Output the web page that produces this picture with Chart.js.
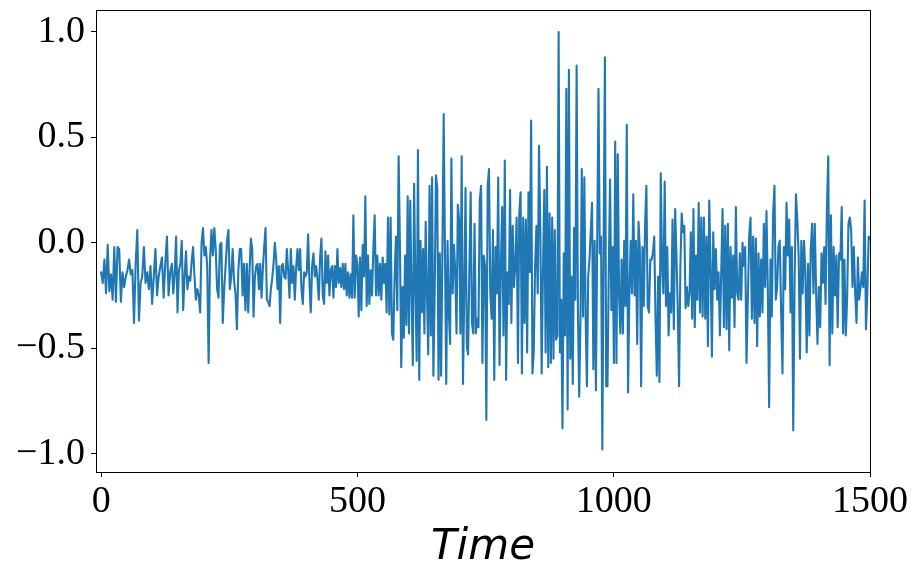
<!DOCTYPE html>
<html>
<head>
<meta charset="utf-8">
<script src="https://cdn.jsdelivr.net/npm/chart.js@4.4.1/dist/chart.umd.min.js"></script>
<style>
  html, body { margin: 0; padding: 0; background: #fff; }
  canvas { display: block; }
</style>
</head>
<body>
<canvas id="signalChart" width="922" height="577"></canvas>
<script>
// tick labels
const xTicks = [0, 500, 1000, 1500];
const yTicks = [-1.0, -0.5, 0.0, 0.5, 1.0];

// time spans of each block of readings
const segBounds = [0, 138, 287, 435, 583, 731, 880, 1028, 1176, 1324, 1500];

// signal readings, block by block
const seg0 = [-0.14,-0.19,-0.08,-0.24,-0.01,-0.23,-0.15,-0.27,-0.02,-0.28,-0.02,-0.03,-0.28,-0.14,-0.21,-0.16,-0.13,-0.08,-0.15,-0.13,-0.38,-0.10,0.06,-0.37,-0.19,-0.16,-0.02,-0.19,-0.14,-0.22,-0.11,-0.29,-0.16,-0.03,-0.25,-0.16,-0.11,-0.07,-0.26,-0.10,0.03,-0.25,-0.14];
const seg1 = [-0.10,-0.24,-0.15,0.03,-0.33,-0.13,-0.10,0.01,-0.32,-0.16,-0.04,-0.22,-0.16,-0.18,-0.09,-0.02,-0.16,-0.27,-0.22,-0.25,-0.33,0.00,0.07,-0.06,-0.02,-0.11,-0.57,-0.08,0.06,-0.06,0.07,-0.03,-0.22,-0.26,-0.01,0.00,-0.38,-0.22,-0.11,0.01,0.06,-0.22,-0.16,-0.03,-0.18,-0.24,-0.41,-0.13,-0.03,-0.03,-0.25,-0.10,-0.32,-0.10];
const seg2 = [-0.33,-0.13,0.02,-0.03,-0.35,-0.16,-0.11,-0.10,-0.22,-0.10,-0.26,-0.12,-0.02,0.07,-0.27,-0.28,-0.30,-0.22,-0.17,-0.10,0.00,-0.08,-0.22,-0.11,-0.38,-0.11,-0.10,-0.16,-0.17,-0.03,-0.13,-0.26,-0.03,-0.19,-0.11,-0.27,-0.12,-0.03,-0.13,-0.03,-0.22,-0.29,-0.14,-0.16,-0.14,0.04,-0.19,-0.33,-0.11,-0.05,-0.16,-0.11,-0.17,-0.27,-0.07,0.02,-0.25];
const seg3 = [-0.29,-0.04,-0.19,-0.06,-0.25,-0.13,-0.11,-0.26,-0.11,-0.21,-0.03,-0.19,-0.12,-0.21,-0.10,-0.22,-0.10,-0.25,-0.14,-0.26,-0.15,-0.26,0.13,-0.26,-0.06,-0.10,-0.35,-0.07,-0.32,-0.01,-0.16,0.22,-0.30,-0.06,-0.29,-0.13,-0.25,-0.03,0.13,-0.25,-0.06,-0.25,-0.10,-0.27,-0.07,-0.19,-0.10,-0.33,0.12,-0.34,0.12,-0.43,-0.46,-0.16,0.03,-0.32,0.41];
const seg4 = [-0.02,-0.59,-0.21,-0.45,-0.06,-0.39,0.22,-0.43,0.20,-0.24,-0.58,0.28,-0.21,-0.56,0.44,-0.65,0.01,-0.33,-0.03,-0.43,0.10,-0.24,-0.53,0.27,-0.44,0.31,-0.63,-0.24,0.32,0.26,-0.65,-0.05,-0.63,-0.05,0.61,-0.05,-0.67,0.01,-0.33,-0.48,0.40,-0.24,-0.01,-0.14,-0.43,0.18,0.11,-0.43,0.41,-0.67,-0.24,0.26,-0.49,-0.53,-0.11,0.24,-0.38,-0.43,0.09];
const seg5 = [-0.43,-0.36,-0.40,0.20,0.27,-0.57,-0.06,-0.11,-0.84,0.27,0.35,-0.24,-0.36,0.06,-0.65,-0.02,-0.24,0.31,-0.58,-0.11,0.17,-0.44,0.39,-0.65,-0.14,-0.29,0.25,-0.38,0.08,-0.21,-0.10,0.12,-0.57,0.14,0.24,-0.62,0.12,-0.38,0.11,-0.52,0.24,-0.14,0.58,-0.62,-0.52,-0.11,0.08,-0.24,0.46,0.05,-0.62,-0.13,0.25,-0.52,0.36,-0.59,0.14,-0.57];
const seg6 = [0.12,-0.55,0.06,-0.46,-0.44,1.00,-0.52,-0.27,-0.88,-0.05,-0.44,0.73,-0.79,0.82,-0.55,-0.16,-0.67,0.07,-0.27,0.84,-0.32,-0.73,-0.36,0.35,-0.35,0.31,-0.35,-0.68,-0.16,-0.08,0.06,0.19,-0.60,0.01,-0.70,0.01,0.73,-0.05,0.03,-0.98,0.00,0.88,-0.68,-0.68,-0.13,0.30,-0.32,-0.02,-0.57,0.48,-0.57,0.42,-0.25,-0.43,-0.08,-0.43,0.01,-0.30,0.56];
const seg7 = [-0.71,-0.24,0.01,-0.24,0.23,-0.25,0.01,-0.48,0.10,-0.03,-0.68,-0.02,-0.30,0.08,0.27,-0.30,-0.33,-0.08,-0.08,-0.05,0.03,-0.36,-0.63,-0.16,-0.66,0.33,-0.11,-0.24,0.29,-0.30,-0.02,-0.44,-0.24,-0.33,0.11,-0.41,0.16,-0.06,-0.32,-0.68,-0.11,0.14,0.05,0.08,-0.31,-0.21,-0.30,-0.24,0.05,-0.36,0.16,-0.40,-0.06,-0.27,0.19,-0.33,0.12,-0.35];
const seg8 = [0.12,-0.36,0.03,-0.49,0.20,-0.11,-0.54,0.05,-0.22,-0.03,-0.27,-0.14,-0.44,-0.14,0.16,-0.40,0.08,-0.41,0.09,-0.51,-0.02,-0.26,-0.06,-0.40,0.17,-0.24,-0.27,-0.05,-0.27,0.00,-0.11,-0.02,-0.57,-0.27,0.03,0.12,-0.36,0.03,-0.38,0.02,-0.49,-0.05,-0.35,-0.08,-0.33,0.09,-0.21,0.15,-0.22,-0.78,-0.08,-0.35,0.14,0.27,-0.27,-0.21,-0.02];
const seg9 = [0.01,-0.33,-0.62,-0.02,-0.22,0.19,-0.06,0.11,-0.33,-0.02,-0.89,-0.18,0.23,0.11,-0.06,-0.55,0.01,-0.24,0.01,-0.14,-0.52,-0.10,-0.44,-0.03,0.09,-0.24,0.09,-0.24,-0.48,-0.21,-0.40,-0.05,-0.19,-0.02,-0.29,0.16,0.41,-0.58,0.13,-0.43,-0.02,-0.25,-0.06,-0.40,-0.05,-0.08,0.17,-0.43,-0.08,-0.44,-0.27,0.09,0.12,0.06,-0.21,-0.02,-0.24,-0.38,-0.07,-0.27,-0.21,-0.14,-0.21,0.20,-0.41,-0.24,0.03];
const lastValue = 0.02;

// spread each block's readings over its time span
const segments = [seg0, seg1, seg2, seg3, seg4, seg5, seg6, seg7, seg8, seg9];
const points = [];
segments.forEach((vals, s) => {
    const t0 = segBounds[s];
    const t1 = segBounds[s + 1];
    vals.forEach((v, i) => {
        points.push({ x: t0 + i * (t1 - t0) / vals.length, y: v });
    });
});
points.push({ x: 1500, y: lastValue });

const tickFont = { family: 'Liberation Serif', size: 38 };

// white background + black box round the plot
const framePlugin = {
    id: 'frame',
    beforeDraw(chart) {
        const c = chart.ctx;
        c.save();
        c.fillStyle = '#fff';
        c.fillRect(0, 0, chart.width, chart.height);
        c.restore();
    },
    afterDraw(chart) {
        const a = chart.chartArea;
        const c = chart.ctx;
        c.save();
        c.strokeStyle = '#000';
        c.lineWidth = 1;
        c.strokeRect(Math.round(a.left) + 0.5, Math.round(a.top) + 0.5,
            Math.round(a.right - a.left), Math.round(a.bottom - a.top));
        c.restore();
    }
};

const ctx = document.getElementById('signalChart').getContext('2d');
new Chart(ctx, {
    type: 'line',
    data: {
        datasets: [{
            data: points,
            borderColor: '#1f77b4',
            borderWidth: 2.1,
            pointRadius: 0,
            tension: 0,
            borderJoinStyle: 'round',
            borderCapStyle: 'round'
        }]
    },
    options: {
        responsive: false,
        animation: false,
        devicePixelRatio: 1,
        layout: { padding: { top: 10, right: 52, left: 0, bottom: 0 } },
        plugins: { legend: { display: false }, tooltip: { enabled: false } },
        scales: {
            x: {
                type: 'linear',
                min: -10,
                max: 1500,
                afterBuildTicks: s => { s.ticks = xTicks.map(v => ({ value: v })); },
                afterFit: s => { s.height = 105; s.paddingLeft = 0; s.paddingRight = 0; },
                grid: { drawOnChartArea: false, color: '#000', tickLength: 5 },
                border: { color: '#000', width: 1 },
                ticks: {
                    font: tickFont, color: '#000', padding: 2,
                    maxRotation: 0, autoSkip: false,
                    callback: v => String(v)
                },
                title: {
                    display: true, text: 'Time', color: '#000',
                    font: { family: 'DejaVu Sans', size: 42, style: 'italic' },
                    padding: { top: 0, bottom: 4 }
                }
            },
            y: {
                min: -1.087,
                max: 1.104,
                afterBuildTicks: s => { s.ticks = yTicks.map(v => ({ value: v })); },
                afterFit: s => { s.width = 96; s.paddingTop = 0; s.paddingBottom = 0; },
                grid: { drawOnChartArea: false, color: '#000', tickLength: 5 },
                border: { color: '#000', width: 1 },
                ticks: {
                    font: tickFont, color: '#000', padding: 6,
                    callback: v => (v < 0 ? '\u2212' : '') + Math.abs(v).toFixed(1)
                }
            }
        }
    },
    plugins: [framePlugin]
});
</script>
</body>
</html>
